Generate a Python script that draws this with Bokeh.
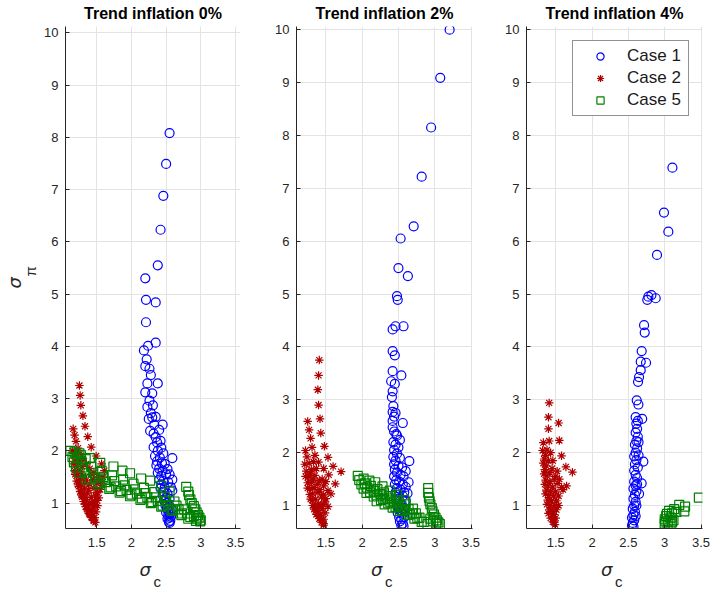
from bokeh.plotting import figure
from bokeh.layouts import row
from bokeh.models import (ColumnDataSource, Range1d, FixedTicker, Legend, LegendItem,
                          NumeralTickFormatter, Title)
from bokeh.embed import file_html
from bokeh.resources import INLINE

# ---------------- data (sigma_c, sigma_pi) ----------------
titles = ["Trend inflation 0%", "Trend inflation 2%", "Trend inflation 4%"]
series_names = ["Case 1", "Case 2", "Case 5"]
x_ticks = [1.5, 2, 2.5, 3, 3.5]
y_ticks = [1, 2, 3, 4, 5, 6, 7, 8, 9, 10]

x_limits = [(1.049, 3.573), (1.096, 3.52), (1.098, 3.52)]
y_limits = [(0.513, 10.12), (0.565, 10.06), (0.565, 10.06)]

p1_case1 = [(2.55,8.08),(2.50,7.49),(2.46,6.88),(2.42,6.23),(2.38,5.55),(2.20,5.30),(2.21,4.89),(2.35,4.84),
            (2.21,4.46),(2.35,4.07),(2.24,4.01),(2.18,3.92),(2.20,3.62),(2.26,3.57),(2.23,3.29),(2.38,3.29),
            (2.20,3.12),(2.30,3.10),(2.26,2.96),(2.23,2.84),(2.25,2.61),(2.30,2.64),(2.35,2.65),(2.45,2.50),
            (2.27,2.38),(2.32,2.33),(2.35,2.26),(2.37,2.16),(2.42,2.19),(2.32,2.07),(2.38,2.00),(2.59,1.86),
            (2.41,1.87),(2.34,1.90),(2.37,1.80),(2.44,1.76),(2.48,1.75),(2.36,1.72),(2.40,1.66),(2.45,1.62),
            (2.38,1.58),(2.43,1.52),(2.50,1.55),(2.40,1.45),(2.46,1.42),(2.59,1.45),(2.53,1.40),(2.43,1.36),
            (2.48,1.30),(2.42,1.28),(2.46,1.22),(2.59,1.24),(2.52,1.18),(2.45,1.15),(2.50,1.10),(2.55,1.08),
            (2.47,1.05),(2.52,1.00),(2.49,0.96),(2.55,0.94),(2.51,0.90),(2.53,0.85),(2.50,0.82),(2.56,0.80),
            (2.53,0.76),(2.55,0.72),(2.52,0.70),(2.56,0.66),(2.54,0.64),(2.55,0.62),(2.57,0.74),(2.58,0.88),
            (2.57,1.30),(2.55,1.55),(2.52,1.65),(2.46,1.95),(2.43,2.06),(2.40,2.40),(2.33,2.50),(2.28,2.72),
            (2.31,2.87),(2.28,3.45),(2.22,3.75)]

p1_case2 = [(1.25,3.25),(1.26,3.06),(1.27,2.87),(1.30,2.67),(1.33,2.47),(1.37,2.27),(1.42,2.07),(1.49,1.90),
            (1.57,1.75),(1.61,1.62),(1.59,1.50),(1.57,1.38),(1.55,1.26),
            (1.16,2.42),(1.18,2.30),(1.20,2.18),(1.23,2.05),(1.26,1.95),(1.30,1.85),(1.35,1.75),(1.40,1.66),
            (1.46,1.58),(1.52,1.50),(1.55,1.40),
            (1.15,2.00),(1.17,1.90),(1.19,1.80),(1.22,1.70),(1.26,1.60),(1.30,1.52),(1.35,1.44),(1.40,1.36),
            (1.46,1.28),(1.51,1.20),(1.53,1.10),
            (1.16,1.75),(1.18,1.62),(1.21,1.52),(1.24,1.43),(1.28,1.35),(1.32,1.27),(1.37,1.19),(1.42,1.11),
            (1.47,1.03),(1.51,0.95),
            (1.19,1.55),(1.21,1.42),(1.24,1.32),(1.27,1.23),(1.31,1.15),(1.35,1.07),(1.40,0.99),(1.45,0.91),
            (1.49,0.83),
            (1.23,1.35),(1.26,1.22),(1.29,1.12),(1.32,1.03),(1.36,0.95),(1.40,0.87),(1.44,0.80),(1.47,0.72),
            (1.28,1.15),(1.31,1.03),(1.34,0.93),(1.37,0.85),(1.40,0.78),(1.43,0.72),(1.46,0.66),
            (1.33,0.98),(1.36,0.88),(1.39,0.80),(1.42,0.73),(1.45,0.67),(1.48,0.63),
            (1.45,1.45),(1.50,1.38),(1.42,1.55),(1.48,1.15),(1.38,1.25),(1.33,1.38),(1.28,1.48),(1.50,1.05),
            (1.47,0.95),(1.43,1.00),(1.20,1.95),(1.24,1.80),(1.29,1.70)]

p1_case5 = [(1.12,2.00),(1.25,1.95),(1.40,1.86),(1.55,1.77),(1.74,1.70),(1.87,1.62),(1.98,1.57),(2.14,1.47),
            (2.27,1.43),(2.43,1.33),(2.55,1.22),
            (1.15,1.88),(1.28,1.80),(1.42,1.70),(1.57,1.62),(1.72,1.53),(1.88,1.45),(2.03,1.37),(2.18,1.29),
            (2.33,1.21),(2.48,1.12),(2.62,1.03),
            (1.17,1.78),(1.30,1.68),(1.45,1.58),(1.60,1.50),(1.75,1.42),(1.90,1.34),(2.05,1.26),(2.20,1.19),
            (2.35,1.11),(2.50,1.03),(2.65,0.95),(2.76,0.88),
            (1.20,1.68),(1.33,1.58),(1.48,1.48),(1.63,1.40),(1.78,1.32),(1.93,1.25),(2.08,1.18),(2.23,1.11),
            (2.38,1.04),(2.53,0.96),(2.68,0.88),(2.80,0.80),
            (1.25,1.58),(1.40,1.47),(1.55,1.38),(1.70,1.30),(1.85,1.23),(2.00,1.16),(2.15,1.09),(2.30,1.02),
            (2.45,0.95),(2.60,0.88),(2.73,0.80),(2.85,0.73),
            (1.35,1.45),(1.52,1.35),(1.68,1.27),(1.83,1.20),(1.98,1.13),(2.13,1.06),(2.28,1.00),(2.43,0.93),
            (2.58,0.85),(2.72,0.77),(2.82,0.70),(2.93,0.66),
            (2.79,1.31),(2.82,1.22),(2.83,1.15),(2.85,1.07),(2.87,1.00),(2.90,0.94),(2.92,0.88),(2.94,0.82),
            (2.96,0.77),(2.98,0.72),(3.00,0.67),(2.99,0.65),(2.95,0.70),(2.90,0.75),
            (1.18,1.97),(1.22,1.87),(1.27,1.92),(1.34,1.84)]

p2_case1 = [(3.205,10.0),(3.076,9.09),(2.95,8.15),(2.82,7.22),(2.71,6.28),(2.53,6.05),(2.50,5.49),(2.63,5.34),
            (2.48,4.96),(2.49,4.89),(2.42,4.33),(2.46,4.39),(2.57,4.39),(2.42,3.92),(2.45,3.84),(2.42,3.54),
            (2.54,3.46),(2.40,3.35),(2.45,3.30),(2.42,3.16),(2.41,3.05),(2.43,2.88),(2.42,2.77),(2.46,2.75),
            (2.44,2.68),(2.42,2.60),(2.56,2.56),(2.42,2.48),(2.44,2.40),(2.47,2.35),(2.48,2.32),(2.52,2.24),
            (2.65,1.84),(2.64,1.44),(2.625,1.23),
            (2.43,2.20),(2.46,2.15),(2.50,2.10),(2.44,2.05),(2.48,1.98),(2.43,1.92),(2.52,1.90),(2.46,1.85),
            (2.44,1.78),(2.50,1.75),(2.55,1.72),(2.45,1.68),(2.48,1.62),(2.53,1.58),(2.44,1.55),(2.47,1.48),
            (2.51,1.45),(2.56,1.40),(2.45,1.40),(2.48,1.33),(2.53,1.30),(2.46,1.25),(2.50,1.20),(2.56,1.18),
            (2.47,1.12),(2.52,1.08),(2.48,1.02),(2.55,1.00),(2.50,0.95),(2.53,0.90),(2.49,0.86),(2.56,0.84),
            (2.51,0.78),(2.54,0.74),(2.52,0.70),(2.56,0.66),(2.54,0.62),(2.57,0.61),(2.58,0.78),(2.58,0.95),
            (2.60,1.10),(2.58,1.25),(2.60,1.35),(2.57,1.55),(2.60,1.65)]

p2_case2 = [(1.41,3.75),(1.40,3.46),(1.39,3.19),(1.40,2.90),(1.42,2.64),(1.43,2.37),(1.48,2.12),(1.53,1.91),
            (1.60,1.74),(1.71,1.64),
            (1.25,2.59),(1.27,2.43),(1.29,2.27),(1.31,2.10),(1.35,1.95),(1.40,1.82),(1.47,1.70),(1.54,1.58),
            (1.63,1.41),
            (1.22,2.04),(1.24,1.92),(1.27,1.80),(1.30,1.68),(1.35,1.57),(1.41,1.47),(1.47,1.37),(1.53,1.28),
            (1.57,1.22),
            (1.21,1.78),(1.23,1.65),(1.26,1.54),(1.30,1.44),(1.34,1.34),(1.39,1.25),(1.44,1.16),(1.49,1.07),
            (1.53,0.98),
            (1.22,1.55),(1.25,1.43),(1.28,1.32),(1.32,1.22),(1.36,1.12),(1.40,1.03),(1.45,0.94),(1.49,0.86),
            (1.25,1.33),(1.28,1.21),(1.31,1.10),(1.35,1.00),(1.39,0.91),(1.43,0.82),(1.47,0.74),
            (1.29,1.12),(1.32,1.00),(1.36,0.90),(1.40,0.81),(1.44,0.73),(1.47,0.66),
            (1.34,0.93),(1.37,0.83),(1.41,0.75),(1.44,0.68),(1.47,0.63),
            (1.45,1.50),(1.50,1.45),(1.42,1.30),(1.47,1.20),(1.38,1.40),(1.33,1.50),(1.29,1.60),(1.46,1.02),
            (1.42,0.98),(1.50,1.13),(1.37,1.70),(1.33,1.83)]

p2_case5 = [(1.94,1.56),(2.02,1.51),(2.10,1.47),(2.18,1.44),(2.28,1.36),(2.38,1.28),(2.48,1.20),(2.58,1.10),
            (1.96,1.48),(2.04,1.42),(2.12,1.37),(2.21,1.31),(2.30,1.25),(2.40,1.18),(2.50,1.10),(2.60,1.02),
            (2.70,0.94),
            (1.99,1.40),(2.07,1.34),(2.16,1.28),(2.25,1.22),(2.34,1.15),(2.44,1.08),(2.54,1.00),(2.64,0.93),
            (2.74,0.85),
            (2.02,1.32),(2.11,1.25),(2.20,1.19),(2.29,1.12),(2.39,1.06),(2.49,0.99),(2.59,0.92),(2.69,0.85),
            (2.79,0.77),
            (2.06,1.24),(2.16,1.17),(2.26,1.10),(2.36,1.04),(2.46,0.97),(2.56,0.90),(2.66,0.83),(2.76,0.76),
            (2.85,0.69),
            (2.20,1.08),(2.31,1.02),(2.42,0.96),(2.52,0.90),(2.62,0.82),(2.72,0.75),(2.82,0.69),(2.90,0.65),
            (2.91,1.33),(2.91,1.24),(2.92,1.15),(2.93,1.08),(2.94,1.02),(2.96,0.95),(2.97,0.89),(2.99,0.83),
            (3.01,0.77),(3.03,0.72),(3.05,0.68),(3.07,0.65),(3.02,0.66),(2.98,0.70),(2.94,0.75)]

p3_case1 = [(3.106,7.39),(2.99,6.54),(3.05,6.18),(2.894,5.74),(2.817,4.98),(2.775,4.95),(2.876,4.92),
            (2.76,4.89),(2.716,4.41),(2.725,4.27),(2.683,3.92),(2.67,3.72),(2.743,3.70),(2.67,3.56),
            (2.647,3.43),(2.633,3.34),(2.615,2.99),(2.638,2.91),(2.60,2.67),(2.69,2.64),(2.706,1.83),
            (2.683,1.42),(2.647,1.22),
            (2.61,2.55),(2.62,2.45),(2.60,2.38),(2.63,2.30),(2.61,2.22),(2.59,2.15),(2.62,2.08),(2.60,2.00),
            (2.58,1.93),(2.61,1.86),(2.59,1.78),(2.63,1.72),(2.58,1.66),(2.60,1.58),(2.62,1.52),(2.58,1.45),
            (2.60,1.38),(2.57,1.32),(2.61,1.27),(2.59,1.20),(2.57,1.13),(2.60,1.07),(2.58,1.00),(2.56,0.94),
            (2.59,0.88),(2.57,0.82),(2.55,0.77),(2.58,0.72),(2.56,0.67),(2.55,0.62),(2.57,0.60),(2.63,2.60),
            (2.64,2.20),(2.64,1.95),(2.62,1.40),(2.61,1.00),(2.60,0.80)]

p3_case2 = [(1.41,2.94),(1.40,2.67),(1.40,2.45),(1.41,2.22),(1.43,2.00),(1.46,1.85),
            (1.54,2.56),(1.55,2.23),(1.58,1.94),(1.64,1.73),(1.73,1.63),(1.65,1.37),(1.60,1.30),
            (1.33,2.19),(1.32,2.04),(1.34,1.88),(1.37,1.75),(1.42,1.62),(1.48,1.50),(1.53,1.42),(1.58,1.34),
            (1.33,1.80),(1.35,1.68),(1.38,1.56),(1.42,1.45),(1.46,1.35),(1.50,1.26),(1.54,1.18),
            (1.34,1.60),(1.36,1.48),(1.39,1.37),(1.43,1.27),(1.47,1.18),(1.51,1.09),(1.54,1.00),
            (1.35,1.40),(1.37,1.29),(1.40,1.19),(1.44,1.09),(1.48,1.00),(1.51,0.92),
            (1.36,1.22),(1.39,1.10),(1.42,1.00),(1.45,0.91),(1.48,0.83),(1.50,0.76),
            (1.38,1.02),(1.41,0.92),(1.44,0.83),(1.46,0.75),(1.48,0.68),
            (1.40,0.85),(1.43,0.76),(1.46,0.69),(1.49,0.64),
            (1.50,1.55),(1.45,1.70),(1.52,1.65),(1.55,1.50),(1.40,1.85),(1.38,2.05),(1.36,1.95)]

p3_case5 = [(3.03,0.84),(3.06,0.90),(3.13,0.93),(3.20,1.01),(3.28,0.98),(3.27,0.89),(3.47,1.15),(3.08,0.77),
            (3.08,0.65),(3.05,0.70),(3.00,0.74),(3.02,0.80),(3.10,0.85),(3.12,0.72),(3.04,0.62),(3.10,0.68),
            (3.16,0.88),(3.00,0.66),(3.01,0.70)]

panels_data = [(p1_case1, p1_case2, p1_case5),
               (p2_case1, p2_case2, p2_case5),
               (p3_case1, p3_case2, p3_case5)]

# ---------------- style ----------------
FONT = "Liberation Sans"
AX = "#262626"
GRID = "#e3e3e3"
C1, C2, C5 = "#0000ff", "#b00000", "#008000"
FRAME_H = 502
borders = [(65, 175, 30), (26, 176, 28), (26, 176, 8)]


def src(pts):
    return ColumnDataSource(dict(x=[p[0] for p in pts], y=[p[1] for p in pts]))


figs = []
for i in range(3):
    bl, fw, br = borders[i]
    p = figure(output_backend="svg", toolbar_location=None,
               x_range=Range1d(*x_limits[i]), y_range=Range1d(*y_limits[i]),
               frame_width=fw, frame_height=FRAME_H,
               min_border_left=bl, min_border_right=br, min_border_top=26, min_border_bottom=62)
    p.outline_line_color = None
    p.background_fill_color = "white"
    p.border_fill_color = "white"

    p.title.text = titles[i]
    p.title.align = "center"
    p.title.vertical_align = "top"
    p.title.text_font = FONT
    p.title.text_font_size = "16px"
    p.title.text_font_style = "bold"
    p.title.text_color = "#000000"
    p.title.standoff = 6

    p.xaxis.ticker = FixedTicker(ticks=x_ticks)
    p.yaxis.ticker = FixedTicker(ticks=y_ticks)
    p.xaxis.formatter = NumeralTickFormatter(format="0.[0]")
    for ax in (p.xaxis[0], p.yaxis[0]):
        ax.axis_line_color = AX
        ax.axis_line_width = 1
        ax.major_tick_line_color = AX
        ax.major_tick_in = 4
        ax.major_tick_out = 0
        ax.minor_tick_line_color = None
        ax.major_label_text_font = FONT
        ax.major_label_text_font_size = "13px"
        ax.major_label_text_color = AX
    p.xaxis.major_label_standoff = 9
    p.yaxis.major_label_standoff = 7
    p.grid.grid_line_color = GRID
    p.grid.grid_line_width = 1

    c1, c2, c5 = panels_data[i]
    r1 = p.scatter("x", "y", source=src(c1), marker="circle", size=9, fill_color=None,
                   line_color=C1, line_width=1.2)
    r2 = p.scatter("x", "y", source=src(c2), marker="asterisk", size=8.5, line_color=C2,
                   line_width=1.2)
    r5 = p.scatter("x", "y", source=src(c5), marker="square", size=9, fill_color=None,
                   line_color=C5, line_width=1.2)

    # x label: sigma with subscript c
    p.add_layout(Title(text="σ", align="left", vertical_align="top", offset=fw / 2 - 13.5, standoff=19,
                       text_font="DejaVu Sans", text_font_size="18px", text_font_style="italic",
                       text_color=AX), "below")
    p.add_layout(Title(text="c", align="left", vertical_align="top", offset=fw / 2 + 0.5, standoff=-36.7,
                       text_font=FONT, text_font_size="15px", text_font_style="normal",
                       text_color=AX), "below")
    if i == 0:
        p.add_layout(Title(text="π", align="left", offset=252, standoff=6,
                           text_font=FONT, text_font_size="15px", text_font_style="normal",
                           text_color=AX), "left")
        p.add_layout(Title(text="σ", align="left", offset=240, standoff=-16.5,
                           text_font="DejaVu Sans", text_font_size="18px", text_font_style="italic",
                           text_color=AX), "left")
    if i == 2:
        legend = Legend(items=[LegendItem(label=series_names[0], renderers=[r1]),
                               LegendItem(label=series_names[1], renderers=[r2]),
                               LegendItem(label=series_names[2], renderers=[r5])],
                        location=(46, 412.5), margin=0, padding=4, spacing=0,
                        glyph_width=46, glyph_height=18, label_height=22, label_width=57,
                        label_standoff=4,
                        label_text_font=FONT, label_text_font_size="17px",
                        label_text_color="#1a1a1a",
                        border_line_color=AX, border_line_width=1,
                        background_fill_color="white", background_fill_alpha=1.0)
        p.add_layout(legend)
    figs.append(p)

layout = row(*figs)
open("out.html", "w").write(file_html(layout, INLINE))
